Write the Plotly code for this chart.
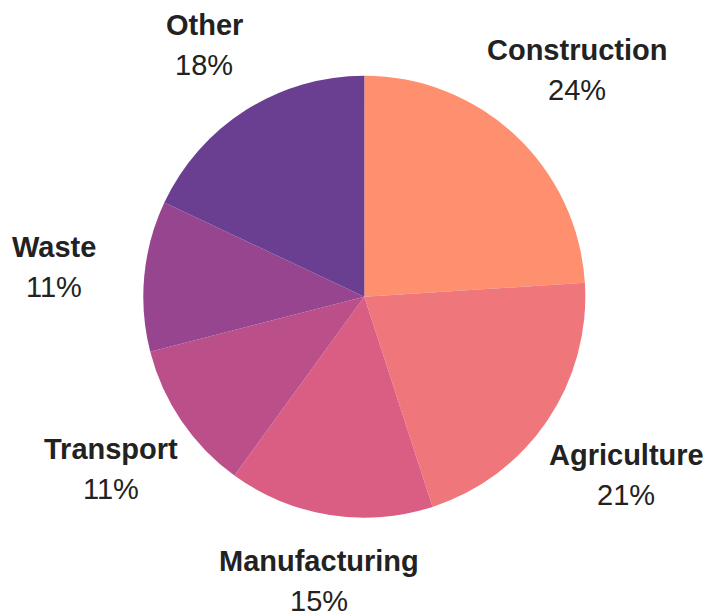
import math
import plotly.graph_objects as go

categories = ["Construction", "Agriculture", "Manufacturing", "Transport", "Waste", "Other"]
values = [24, 21, 15, 11, 11, 18]
colors = ["#FE8F6F", "#EF767A", "#DA5E84", "#BA4F8A", "#97458F", "#6A3F91"]

W, H = 708, 612
CX, CY, R = 364.3, 296.7, 221.0
FONT = "Liberation Sans, Arial, sans-serif"
FS = 29
TXT = "#222222"

fig = go.Figure(go.Pie(
    labels=categories,
    values=values,
    textinfo="none",
    sort=False,
    direction="clockwise",
    rotation=0,
    marker=dict(colors=colors, line=dict(width=0)),
    domain=dict(x=[(CX - R) / W, (CX + R) / W], y=[(H - CY - R) / H, (H - CY + R) / H]),
    showlegend=False,
    hoverinfo="label+percent",
))

total = sum(values)
annotations = []
cum = 0.0
for cat, v in zip(categories, values):
    mid = (cum + v / 2) / total * 2 * math.pi
    cum += v
    dx, dy = math.sin(mid), -math.cos(mid)
    dist = R * (1.28 + 0.157 * abs(dx) + 0.027 * dx)
    px, py = CX + dist * dx, CY + dist * dy
    xp, yp = px / W, 1 - py / H
    pct = round(v / total * 100)
    annotations.append(dict(x=xp, y=yp, xref="paper", yref="paper", text=f"<b>{cat}</b>",
                            showarrow=False, xanchor="center", yanchor="middle", yshift=20,
                            font=dict(family=FONT, size=FS, color=TXT)))
    annotations.append(dict(x=xp, y=yp, xref="paper", yref="paper", text=f"{pct}%",
                            showarrow=False, xanchor="center", yanchor="middle", yshift=-20,
                            font=dict(family=FONT, size=FS, color=TXT)))

fig.update_layout(
    width=W, height=H,
    margin=dict(l=0, r=0, t=0, b=0),
    paper_bgcolor="white",
    plot_bgcolor="white",
    annotations=annotations,
)
fig.write_html("out.html")
